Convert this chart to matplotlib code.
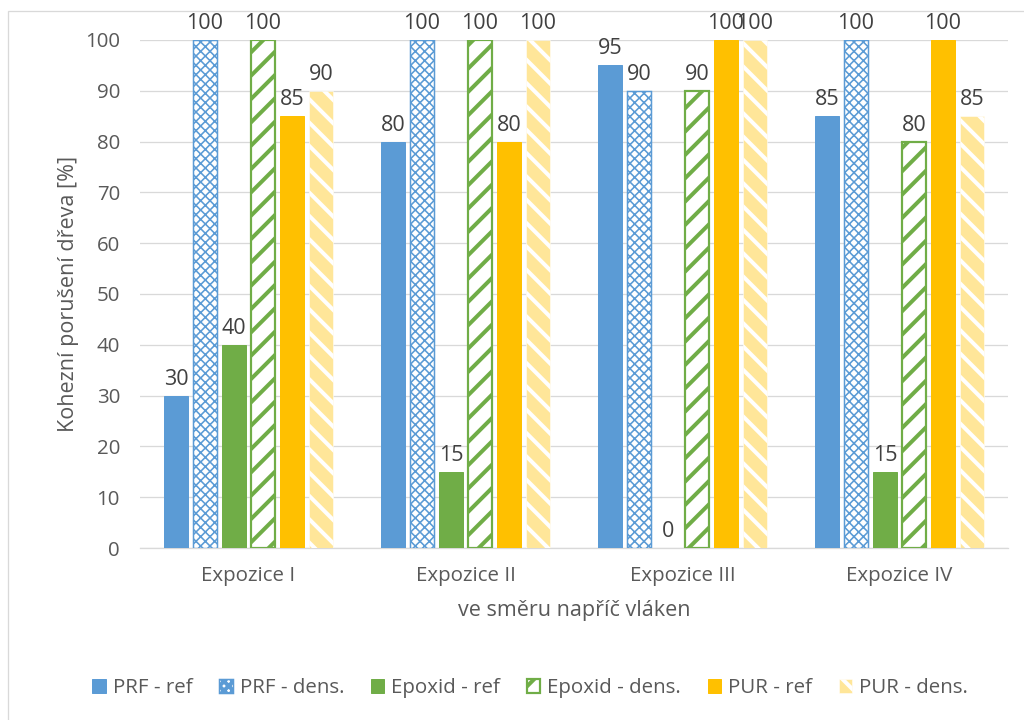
import matplotlib
matplotlib.use("Agg")
import matplotlib.pyplot as plt
from matplotlib.patches import Rectangle
import numpy as np

plt.rcParams['font.family'] = ['Open Sans', 'DejaVu Sans']

groups = ["Expozice I", "Expozice II", "Expozice III", "Expozice IV"]
series = ["PRF - ref", "PRF - dens.", "Epoxid - ref", "Epoxid - dens.", "PUR - ref", "PUR - dens."]
prf_ref = [30, 80, 95, 85]
prf_dens = [100, 100, 90, 100]
epoxid_ref = [40, 15, 0, 15]
epoxid_dens = [100, 100, 90, 80]
pur_ref = [85, 80, 100, 100]
pur_dens = [90, 100, 100, 85]
values = [prf_ref, prf_dens, epoxid_ref, epoxid_dens, pur_ref, pur_dens]

blue = "#5B9BD5"
green = "#70AD47"
gold = "#FFC000"
pale = "#FFE699"
text_c = "#595959"

DPI = 140
W, H = 1024, 720
pt = 72 / DPI  # points per pixel

def px(v):
    return v * pt

# (facecolor, edgecolor, hatch, hatch linewidth in px, edge linewidth in px)
styles = [
    (blue, blue, None, 1.0, 1.0),
    ("white", blue, "xxxxx", 1.6, 1.5),
    (green, green, None, 1.0, 1.0),
    ("white", green, "//", 4.0, 2.2),
    (gold, gold, None, 1.0, 1.0),
    (pale, "white", "\\\\", 4.0, 0.5),
]

fig = plt.figure(figsize=(W / DPI, H / DPI), dpi=DPI)
ax = fig.add_axes([140 / W, 1 - 548 / H, (1008 - 140) / W, (548 - 40) / H])

x = np.arange(len(groups))
step = 0.1335
width = 0.11
offsets = (np.arange(len(series)) - (len(series) - 1) / 2) * step

for i, (name, vals) in enumerate(zip(series, values)):
    fc, ec, hatch, hlw, elw = styles[i]
    plt.rcParams['hatch.linewidth'] = px(hlw)
    bars = ax.bar(x + offsets[i], vals, width, facecolor=fc, edgecolor=ec,
                  hatch=hatch, linewidth=px(elw), label=name, zorder=3)
    for b in bars:
        try:
            b.set_hatch_linewidth(px(hlw))
        except AttributeError:
            pass
    for b, v in zip(bars, vals):
        ax.text(b.get_x() + b.get_width() / 2, v + 1.2, f"{v}", ha="center", va="bottom",
                fontsize=px(21.5), color="#404040", zorder=4)

ax.set_xlim(-0.5, len(groups) - 0.5)
ax.set_ylim(0, 100)
ax.set_yticks(np.arange(0, 101, 10))
ax.set_xticks(x)
ax.set_xticklabels(groups)
ax.tick_params(axis="both", length=0, labelsize=px(20.5), colors=text_c)
ax.tick_params(axis="y", pad=px(20))
ax.tick_params(axis="x", pad=px(18))
ax.grid(axis="y", color="#D9D9D9", linewidth=px(1.3), zorder=0)
ax.set_axisbelow(True)
for s in ["top", "right", "left"]:
    ax.spines[s].set_visible(False)
ax.spines["bottom"].set_color("#D9D9D9")
ax.spines["bottom"].set_linewidth(px(1.3))

ax.set_ylabel("Kohezní porušení dřeva [%]", fontsize=px(21.5), color=text_c, labelpad=px(6))
ax.set_xlabel("ve směru napříč vláken", fontsize=px(21.5), color=text_c, labelpad=px(14))

leg = fig.legend(loc="center", bbox_to_anchor=(0.518, 1 - 688 / H), ncol=6, frameon=False,
                 fontsize=px(20.5), handlelength=0.65, handleheight=0.65, handletextpad=0.35,
                 columnspacing=1.3, labelcolor=text_c)

# chart frame
fig.patches.append(Rectangle((8 / W, -0.05), 1.2, 1 - 11 / H + 0.05, transform=fig.transFigure,
                             fill=False, edgecolor="#D9D9D9", linewidth=px(1.3)))

fig.savefig("out.png", dpi=DPI, facecolor="white")
